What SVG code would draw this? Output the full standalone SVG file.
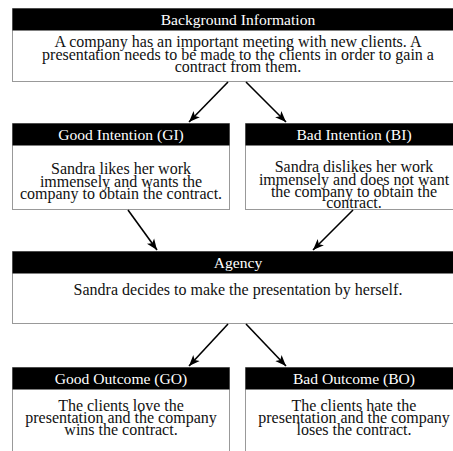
<svg xmlns="http://www.w3.org/2000/svg" width="453" height="451" viewBox="0 0 453 451">
<defs>
<marker id="ah" viewBox="0 0 10 10" refX="10" refY="5" markerWidth="11" markerHeight="11" markerUnits="userSpaceOnUse" orient="auto">
<path d="M0,1 L10,5 L0,9 L2.5,5 Z" fill="#000"/>
</marker>
<style>
.box{fill:#fff;stroke:#999;stroke-width:1}
.hdr{fill:#000}
.ht{font-size:15.6px;fill:#fff;text-anchor:middle}
.bt{font-size:16px;fill:#111;text-anchor:middle}
.con line{stroke:#000;stroke-width:1.6;marker-end:url(#ah)}
</style>
</defs>
<rect width="453" height="451" fill="#fff"/>
<g font-family="'Liberation Serif', 'Times New Roman', serif">
<g id="background">
<rect class="box" x="12.5" y="8.5" width="452" height="73"/>
<rect class="hdr" x="12.5" y="8.5" width="452" height="22"/>
<text class="ht" x="238" y="24.5">Background Information</text>
<text class="bt" x="238" y="47">A company has an important meeting with new clients. A</text>
<text class="bt" x="238" y="59.5">presentation needs to be made to the clients in order to gain a</text>
<text class="bt" x="238" y="72">contract from them.</text>
</g>
<g id="gi">
<rect class="box" x="12.5" y="123.5" width="217" height="86"/>
<rect class="hdr" x="12.5" y="123.5" width="217" height="22"/>
<text class="ht" x="121" y="139.5">Good Intention (GI)</text>
<text class="bt" x="121" y="174">Sandra likes her work</text>
<text class="bt" x="121" y="186.5">immensely and wants the</text>
<text class="bt" x="121" y="199">company to obtain the contract.</text>
</g>
<g id="bi">
<rect class="box" x="245.5" y="123.5" width="217" height="86"/>
<rect class="hdr" x="245.5" y="123.5" width="217" height="22"/>
<text class="ht" x="354" y="139.5">Bad Intention (BI)</text>
<text class="bt" x="354" y="172">Sandra dislikes her work</text>
<text class="bt" x="354" y="184.5">immensely and does not want</text>
<text class="bt" x="354" y="197">the company to obtain the</text>
<text class="bt" x="354" y="208">contract.</text>
</g>
<g id="agency">
<rect class="box" x="12.5" y="251.5" width="452" height="72"/>
<rect class="hdr" x="12.5" y="251.5" width="452" height="22"/>
<text class="ht" x="238" y="267.5">Agency</text>
<text class="bt" x="238" y="295">Sandra decides to make the presentation by herself.</text>
</g>
<g id="go">
<rect class="box" x="12.5" y="367.5" width="217" height="90"/>
<rect class="hdr" x="12.5" y="367.5" width="217" height="22"/>
<text class="ht" x="121" y="383.5">Good Outcome (GO)</text>
<text class="bt" x="121" y="411">The clients love the</text>
<text class="bt" x="121" y="423">presentation and the company</text>
<text class="bt" x="121" y="435">wins the contract.</text>
</g>
<g id="bo">
<rect class="box" x="245.5" y="367.5" width="217" height="90"/>
<rect class="hdr" x="245.5" y="367.5" width="217" height="22"/>
<text class="ht" x="354" y="383.5">Bad Outcome (BO)</text>
<text class="bt" x="354" y="411">The clients hate the</text>
<text class="bt" x="354" y="423">presentation and the company</text>
<text class="bt" x="354" y="435">loses the contract.</text>
</g>
</g>
<g id="connectors" class="con">
<line x1="228" y1="82" x2="189" y2="122"/>
<line x1="246" y1="82" x2="286" y2="122"/>
<line x1="128" y1="210" x2="157" y2="250"/>
<line x1="353" y1="210" x2="313" y2="250"/>
<line x1="228" y1="324" x2="189" y2="366"/>
<line x1="246" y1="324" x2="286" y2="366"/>
</g>
</svg>
